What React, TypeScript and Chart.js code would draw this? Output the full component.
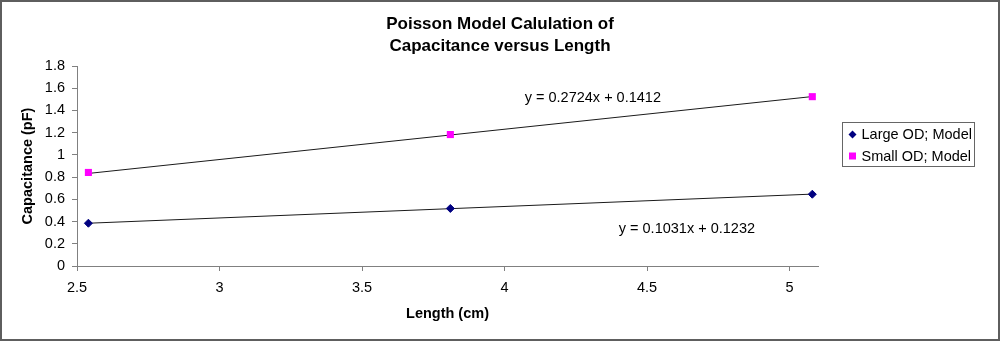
import React, { useEffect, useRef } from 'react';
import { Chart, registerables } from 'chart.js';

Chart.register(...registerables);

const titleLines = ['Poisson Model Calulation of', 'Capacitance versus Length'];
const xAxisTitle = 'Length (cm)';
const yAxisTitle = 'Capacitance (pF)';
const lengths = [2.54, 3.81, 5.08];
const largeOD = [0.385, 0.518, 0.646];
const smallOD = [0.842, 1.183, 1.524];
const trendX = [2.54, 5.08];
const largeTrend = [0.385, 0.647];
const smallTrend = [0.833, 1.525];
const seriesNames = ['Large OD; Model', 'Small OD; Model'];
const equations = ['y = 0.1031x + 0.1232', 'y = 0.2724x + 0.1412'];
const equationAnchorX = [4.64, 4.31];
const equationAnchorY = [0.333, 1.512];
const xTicks = [2.5, 3, 3.5, 4, 4.5, 5];
const yTicks = [0, 0.2, 0.4, 0.6, 0.8, 1, 1.2, 1.4, 1.6, 1.8];

const FONT = "'Liberation Sans', Arial, sans-serif";

const borderPlugin = {
  id: 'outerBorder',
  afterDraw(chart: any) {
    const ctx = chart.ctx;
    ctx.save();
    ctx.strokeStyle = '#5e5e5e';
    ctx.lineWidth = 2;
    ctx.strokeRect(1, 1, chart.width - 2, chart.height - 2);
    ctx.restore();
  },
};

const equationPlugin = {
  id: 'equations',
  afterDatasetsDraw(chart: any) {
    const ctx = chart.ctx;
    const xs = chart.scales.x;
    const ys = chart.scales.y;
    ctx.save();
    ctx.font = `14.5px ${FONT}`;
    ctx.fillStyle = '#000';
    ctx.textAlign = 'center';
    ctx.textBaseline = 'middle';
    equations.forEach((t, i) => {
      ctx.fillText(t, xs.getPixelForValue(equationAnchorX[i]), ys.getPixelForValue(equationAnchorY[i]));
    });
    ctx.restore();
  },
};

const legendPlugin = {
  id: 'boxLegend',
  afterDraw(chart: any) {
    const ctx = chart.ctx;
    const ca = chart.chartArea;
    const left = Math.round(ca.right + 24) + 0.5;
    const top = Math.round(ca.top + 56) + 0.5;
    const w = 132;
    const h = 44;
    ctx.save();
    ctx.fillStyle = '#fff';
    ctx.fillRect(left, top, w, h);
    ctx.strokeStyle = '#666';
    ctx.lineWidth = 1;
    ctx.strokeRect(left, top, w, h);
    const items = chart.data.datasets.filter((d: any) => !d.isTrend);
    ctx.font = `14.5px ${FONT}`;
    ctx.textBaseline = 'middle';
    ctx.textAlign = 'left';
    items.forEach((d: any, i: number) => {
      const cy = top + 12 + i * 21.5;
      const cx = left + 10;
      ctx.fillStyle = d.backgroundColor;
      ctx.beginPath();
      if (d.pointStyle === 'rectRot') {
        ctx.moveTo(cx - 4, cy);
        ctx.lineTo(cx, cy - 4);
        ctx.lineTo(cx + 4, cy);
        ctx.lineTo(cx, cy + 4);
        ctx.closePath();
      } else {
        ctx.rect(cx - 3.5, cy - 3.5, 7, 7);
      }
      ctx.fill();
      ctx.fillStyle = '#000';
      ctx.fillText(d.label, left + 19, cy + 0.5);
    });
    ctx.restore();
  },
};

export default function App() {
  const ref = useRef<HTMLCanvasElement | null>(null);

  useEffect(() => {
    if (!ref.current) return;
    const chart = new Chart(ref.current, {
      type: 'scatter',
      data: {
        datasets: [
          {
            label: seriesNames[0],
            data: lengths.map((x, i) => ({ x, y: largeOD[i] })),
            pointStyle: 'rectRot',
            pointRadius: 4,
            pointBorderWidth: 1,
            backgroundColor: '#000080',
            borderColor: '#000080',
            showLine: false,
            order: 1,
          },
          {
            label: seriesNames[1],
            data: lengths.map((x, i) => ({ x, y: smallOD[i] })),
            pointStyle: 'rect',
            pointRadius: 5,
            pointBorderWidth: 0,
            backgroundColor: '#ff00ff',
            borderColor: '#ff00ff',
            showLine: false,
            order: 1,
          },
          {
            label: 'Linear (Large OD; Model)',
            isTrend: true,
            data: trendX.map((x, i) => ({ x, y: largeTrend[i] })),
            showLine: true,
            borderColor: '#1a1a1a',
            borderWidth: 1,
            pointRadius: 0,
            fill: false,
            order: 2,
          } as any,
          {
            label: 'Linear (Small OD; Model)',
            isTrend: true,
            data: trendX.map((x, i) => ({ x, y: smallTrend[i] })),
            showLine: true,
            borderColor: '#1a1a1a',
            borderWidth: 1,
            pointRadius: 0,
            fill: false,
            order: 2,
          } as any,
        ],
      },
      options: {
        responsive: false,
        animation: false,
        layout: { padding: { left: 16, right: 16, top: 0, bottom: 15 } },
        plugins: {
          legend: { display: false },
          tooltip: { enabled: false },
          title: {
            display: true,
            text: titleLines,
            color: '#000',
            font: { family: FONT, size: 17, weight: 'bold', lineHeight: 1.3 },
            padding: { top: 13, bottom: 8.8 },
          },
        },
        scales: {
          x: {
            type: 'linear',
            min: 2.5,
            max: 5.1,
            afterBuildTicks: (axis: any) => {
              axis.ticks = xTicks.map((v) => ({ value: v }));
            },
            afterFit: (s: any) => {
              s.height = 60;
            },
            ticks: {
              color: '#000',
              font: { family: FONT, size: 14.5 },
              padding: 8,
              maxRotation: 0,
              callback: (v: any) => String(v),
            },
            grid: { drawOnChartArea: false, drawTicks: true, tickLength: 5, color: '#808080' },
            border: { color: '#808080', width: 1 },
            title: {
              display: true,
              text: xAxisTitle,
              color: '#000',
              font: { family: FONT, size: 14.5, weight: 'bold' },
              padding: { top: 0, bottom: 3 },
            },
          },
          y: {
            type: 'linear',
            min: 0,
            max: 1.8,
            afterBuildTicks: (axis: any) => {
              axis.ticks = yTicks.map((v) => ({ value: v }));
            },
            afterFit: (s: any) => {
              s.width = 61;
            },
            ticks: {
              color: '#000',
              font: { family: FONT, size: 14.5 },
              padding: 7,
              callback: (v: any) => String(v),
            },
            grid: { drawOnChartArea: false, drawTicks: true, tickLength: 5, color: '#808080' },
            border: { color: '#808080', width: 1 },
            title: {
              display: true,
              text: yAxisTitle,
              color: '#000',
              font: { family: FONT, size: 14.5, weight: 'bold' },
              padding: { top: 3, bottom: 0 },
            },
          },
          legendSpace: {
            type: 'linear',
            position: 'right',
            display: true,
            ticks: { display: false },
            grid: { display: false },
            border: { display: false },
            afterFit: (s: any) => {
              s.width = 166;
            },
          },
        },
      },
      plugins: [equationPlugin, legendPlugin, borderPlugin],
    });
    return () => chart.destroy();
  }, []);

  return (
    <div style={{ position: 'fixed', left: 0, top: 0, width: 1000, height: 341, background: '#fff' }}>
      <canvas ref={ref} width={1000} height={341} style={{ display: 'block' }} />
    </div>
  );
}
